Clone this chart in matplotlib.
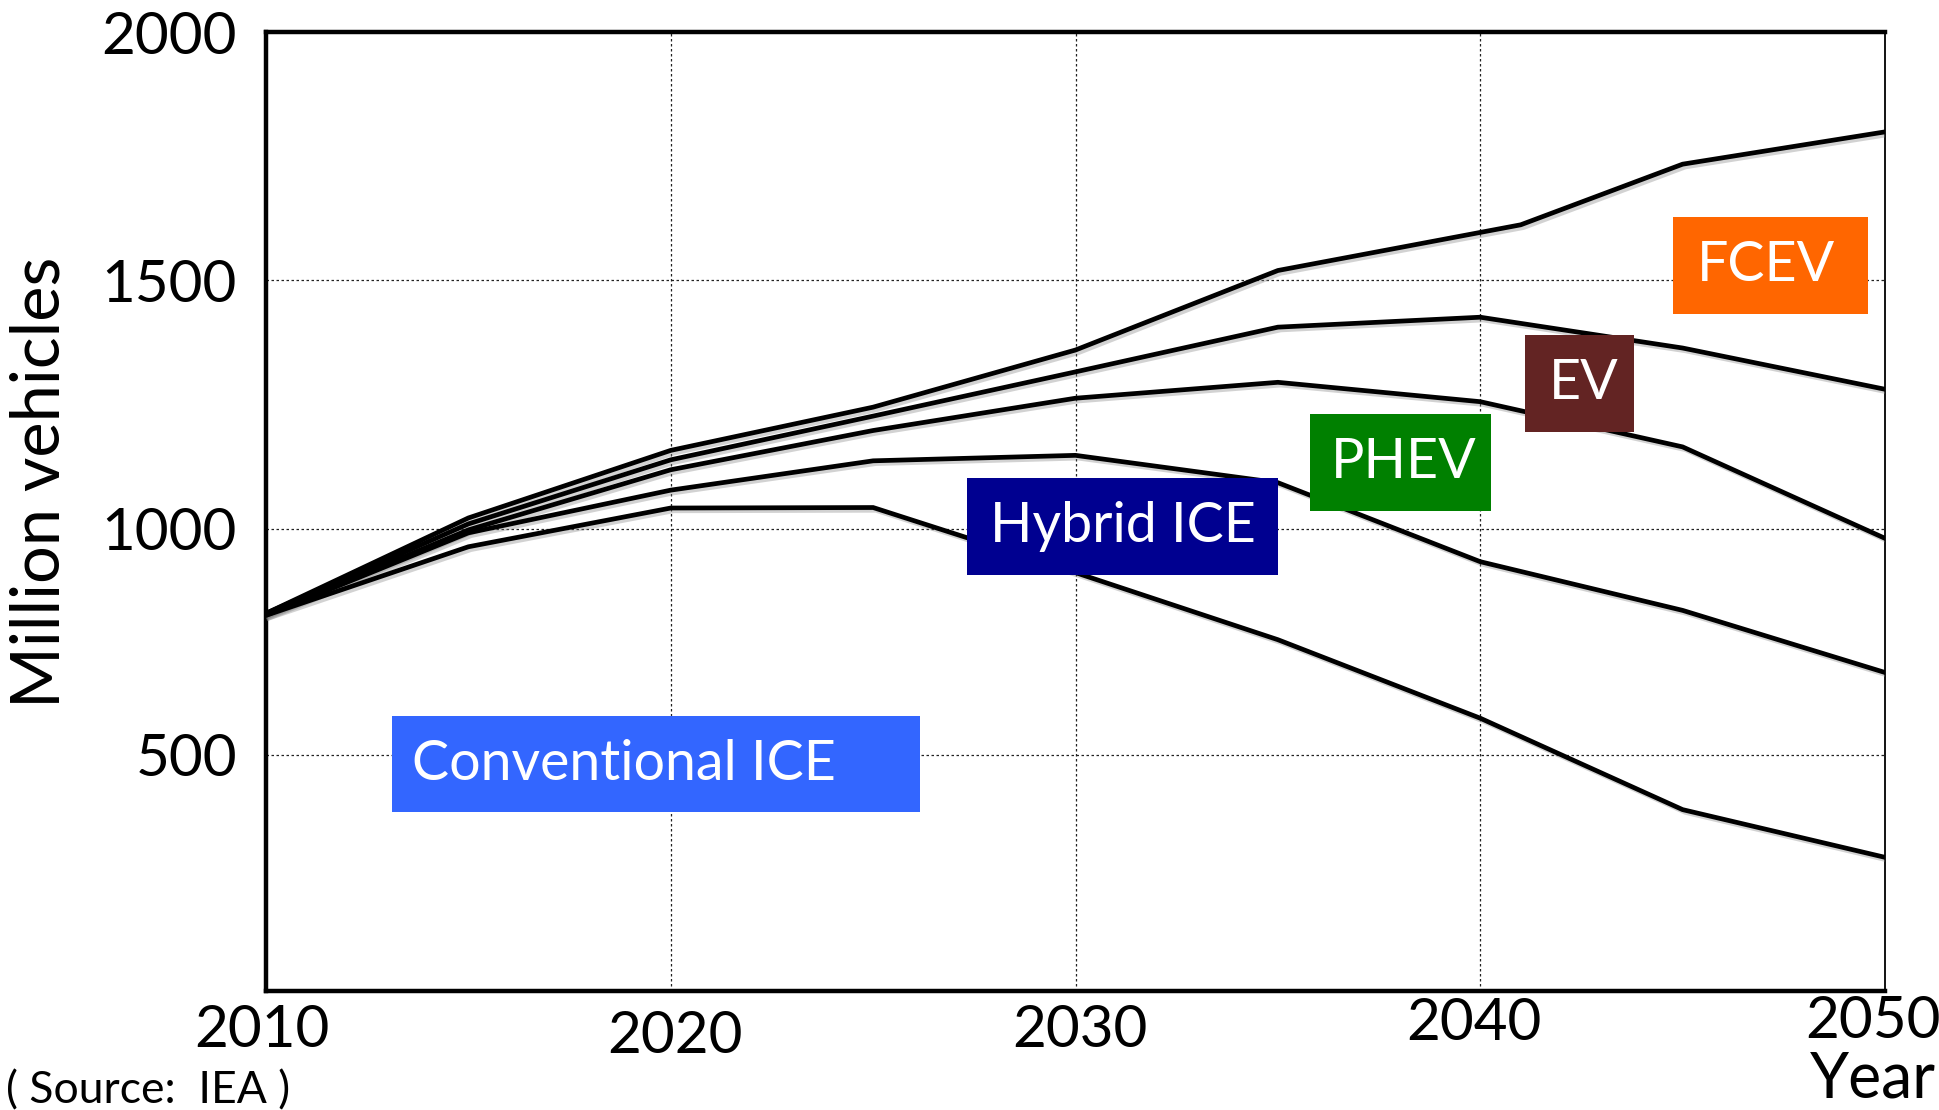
import matplotlib.pyplot as plt
import matplotlib.patheffects as pe
from matplotlib.patches import Rectangle

plt.rcParams['font.family'] = ['Lato', 'DejaVu Sans']

# cumulative stock, million vehicles (top edge of each band)
years = [2010, 2015, 2020, 2025, 2030, 2035, 2040, 2045, 2050]
years_total = [2010, 2015, 2020, 2025, 2030, 2035, 2041, 2045, 2050]
total_fcev = [830, 1022, 1158, 1245, 1360, 1520, 1612, 1734, 1799]
ev_top = [830, 1010, 1139, 1227, 1316, 1406, 1426, 1364, 1281]
phev_top = [828, 998, 1119, 1198, 1263, 1295, 1256, 1165, 981]
hybrid_top = [826, 992, 1078, 1137, 1148, 1093, 934, 836, 711]
conventional = [826, 964, 1042, 1043, 912, 777, 619, 435, 339]

ytick_vals = [545, 1000, 1500, 2000]
ytick_labels = ['500', '1000', '1500', '2000']
xtick_vals = [2010, 2020, 2030, 2040, 2050]
xtick_labels = ['2010', '2020', '2030', '2040', '2050']

labels = ['Conventional ICE', 'Hybrid ICE', 'PHEV', 'EV', 'FCEV']
label_colors = ['#3366FF', '#000090', '#008000', '#632423', '#FF6600']

W, H = 1939, 1110
fig = plt.figure(figsize=(W / 100, H / 100), dpi=100)
ax = fig.add_axes([266 / W, 1 - 991 / H, (1885 - 266) / W, (991 - 32) / H])
ax.set_xlim(2010, 2050)
ax.set_ylim(70, 2000)

shadow = [pe.SimpleLineShadow(offset=(2, -2), shadow_color='gray', alpha=0.35), pe.Normal()]
series = [(years_total, total_fcev), (years, ev_top), (years, phev_top),
          (years, hybrid_top), (years, conventional)]
for xs, ys in series:
    ax.plot(xs, ys, color='black', lw=3.4, solid_joinstyle='miter', zorder=3, path_effects=shadow)

# grid
for v in ytick_vals[:-1]:
    ax.axhline(v, color='#222222', lw=0.9, ls=(0, (2, 2)), zorder=1)
for yr in xtick_vals[1:-1]:
    ax.axvline(yr, color='#222222', lw=0.9, ls=(0, (2, 2)), zorder=1)

ax.set_yticks(ytick_vals)
ax.set_yticklabels(ytick_labels, fontsize=42)
ax.tick_params(axis='y', length=0, pad=21)
ax.set_xticks([])

# x labels sit at slightly uneven heights in the original
x_label_y = [-0.041, -0.047, -0.041, -0.034, -0.032]
x_label_shift = [-0.1, 0.1, 0.1, -0.15, -0.3]
for yr, lab, dy, dx in zip(xtick_vals, xtick_labels, x_label_y, x_label_shift):
    ax.text(yr + dx, dy, lab, transform=ax.get_xaxis_transform(), ha='center', va='center',
            fontsize=42, clip_on=False)

for side in ['left', 'bottom', 'top']:
    ax.spines[side].set_linewidth(3.2)
    ax.spines[side].set_path_effects([pe.SimplePatchShadow(offset=(2, -2), alpha=0.3), pe.Normal()])
ax.spines['right'].set_linewidth(1.3)

# coloured label boxes (figure pixel positions, top-left origin)
boxes = [(392, 716, 920, 812), (967, 478, 1278, 575), (1310, 414, 1491, 511),
         (1525, 335, 1634, 432), (1673, 217, 1868, 314)]
text_left = [412, 990, 1331, 1549, 1697]
for (x0, y0, x1, y1), tx, lab, col in zip(boxes, text_left, labels, label_colors):
    fig.patches.append(Rectangle((x0 / W, 1 - y1 / H), (x1 - x0) / W, (y1 - y0) / H,
                                 transform=fig.transFigure, facecolor=col, edgecolor='none', zorder=5))
    fig.text(tx / W, 1 - (y0 + y1) / 2 / H, lab, color='white', fontsize=40,
             ha='left', va='center', zorder=6)

fig.text(41 / W, 1 - 482 / H, 'Million vehicles', rotation=90, fontsize=48, ha='center', va='center')
fig.text(1936 / W, 1 / H, 'Year', fontsize=45, ha='right', va='bottom')
fig.text(6 / W, 1 - 1091 / H, '( Source:  IEA )', fontsize=32, ha='left', va='center')

fig.savefig('out.png', dpi=100)
